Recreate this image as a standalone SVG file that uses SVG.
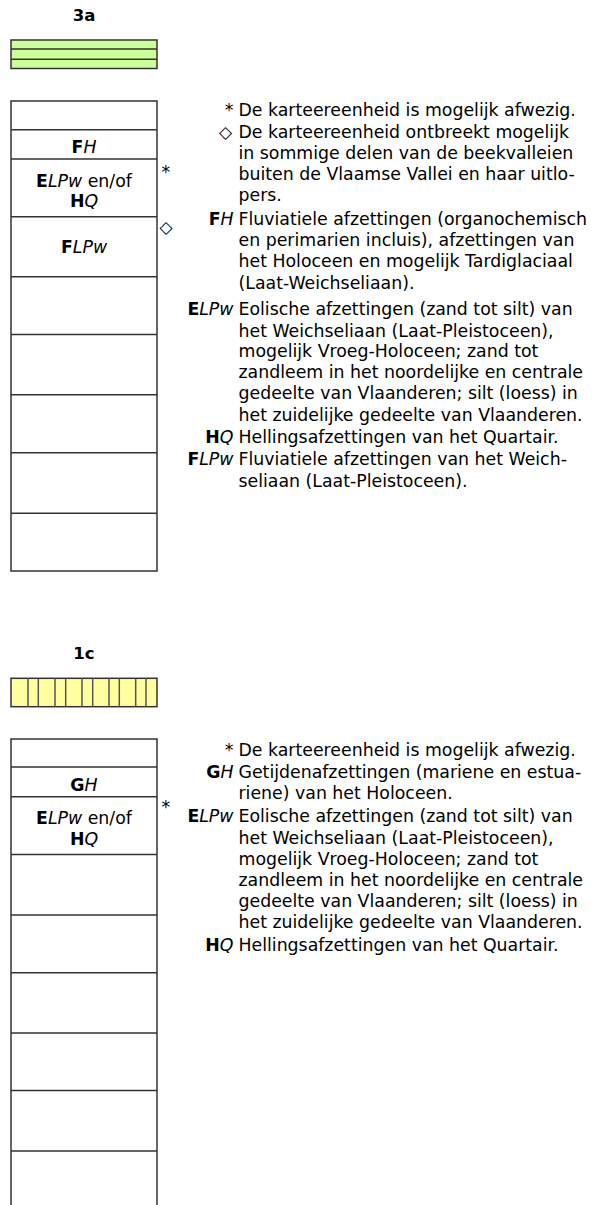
<svg xmlns="http://www.w3.org/2000/svg" width="594" height="1205" viewBox="0 0 594 1205">
  <style>
    text { font-family: "DejaVu Sans", Verdana, sans-serif; font-size: 17.33px; fill: #000; }
    .title { font-weight: bold; font-size: 16.5px; text-anchor: middle; }
    .lbl { text-anchor: middle; }
    .key { text-anchor: end; }
    .b { font-weight: bold; }
    .i { font-style: italic; }
    .dia { font-size: 17px; font-weight: bold; }
    .cell { fill: #fff; stroke: #333; stroke-width: 1.5; }
    .div { stroke: #333; stroke-width: 1.5; fill: none; }
    .green { fill: #ccff99; stroke: #333; stroke-width: 1.5; }
    .yellow { fill: #ffff9f; stroke: #333; stroke-width: 1.5; }
    .hatch { stroke: #555; stroke-width: 1.5; }
  </style>

  <!-- ===== Profile 3a ===== -->
  <g id="title-3a">
    <text class="title" x="84" y="21">3a</text>
  </g>

  <g id="swatch-3a">
    <rect class="green" x="11" y="40" width="146" height="28.5"/>
    <line class="div" x1="11" y1="49" x2="157" y2="49"/>
    <line class="div" x1="11" y1="59.3" x2="157" y2="59.3"/>
  </g>

  <g id="column-3a">
    <rect class="cell" x="11" y="101" width="146" height="470"/>
    <line class="div" x1="11" y1="129.7" x2="157" y2="129.7"/>
    <line class="div" x1="11" y1="159" x2="157" y2="159"/>
    <line class="div" x1="11" y1="216.7" x2="157" y2="216.7"/>
    <line class="div" x1="11" y1="276.7" x2="157" y2="276.7"/>
    <line class="div" x1="11" y1="334.5" x2="157" y2="334.5"/>
    <line class="div" x1="11" y1="394.7" x2="157" y2="394.7"/>
    <line class="div" x1="11" y1="452.7" x2="157" y2="452.7"/>
    <line class="div" x1="11" y1="513.3" x2="157" y2="513.3"/>
  </g>

  <g id="cell-3a-FH">
    <text class="lbl" x="84" y="152.7"><tspan class="b">F</tspan><tspan class="i">H</tspan></text>
  </g>
  <g id="cell-3a-ELPw-HQ">
    <text class="lbl" x="84" y="186.7"><tspan class="b">E</tspan><tspan class="i">LPw</tspan> en/of</text>
    <text class="lbl" x="84" y="207"><tspan class="b">H</tspan><tspan class="i">Q</tspan></text>
    <text x="161.5" y="178.4">*</text>
  </g>
  <g id="cell-3a-FLPw">
    <text class="lbl" x="84" y="253.3"><tspan class="b">F</tspan><tspan class="i">LPw</tspan></text>
    <text class="dia" x="159.5" y="232.5">◇</text>
  </g>

  <g id="legend-3a">
    <text class="key" x="233.5" y="116">*</text>
    <text x="238.5" y="116">De karteereenheid is mogelijk afwezig.</text>
    <text class="key dia" x="232" y="137.5">◇</text>
    <text x="238.5" y="138">De karteereenheid ontbreekt mogelijk</text>
    <text x="238.5" y="159">in sommige delen van de beekvalleien</text>
    <text x="238.5" y="180">buiten de Vlaamse Vallei en haar uitlo-</text>
    <text x="238.5" y="201">pers.</text>

    <text class="key" x="233.5" y="225"><tspan class="b">F</tspan><tspan class="i">H</tspan></text>
    <text x="238.5" y="225">Fluviatiele afzettingen (organochemisch</text>
    <text x="238.5" y="246">en perimarien incluis), afzettingen van</text>
    <text x="238.5" y="267">het Holoceen en mogelijk Tardiglaciaal</text>
    <text x="238.5" y="288.5">(Laat-Weichseliaan).</text>

    <text class="key" x="233.5" y="315"><tspan class="b">E</tspan><tspan class="i">LPw</tspan></text>
    <text x="238.5" y="315">Eolische afzettingen (zand tot silt) van</text>
    <text x="238.5" y="336.5">het Weichseliaan (Laat-Pleistoceen),</text>
    <text x="238.5" y="357">mogelijk Vroeg-Holoceen; zand tot</text>
    <text x="238.5" y="378">zandleem in het noordelijke en centrale</text>
    <text x="238.5" y="399">gedeelte van Vlaanderen; silt (loess) in</text>
    <text x="238.5" y="420.5">het zuidelijke gedeelte van Vlaanderen.</text>

    <text class="key" x="233.5" y="443"><tspan class="b">H</tspan><tspan class="i">Q</tspan></text>
    <text x="238.5" y="443">Hellingsafzettingen van het Quartair.</text>

    <text class="key" x="233.5" y="465"><tspan class="b">F</tspan><tspan class="i">LPw</tspan></text>
    <text x="238.5" y="465">Fluviatiele afzettingen van het Weich-</text>
    <text x="238.5" y="486.5">seliaan (Laat-Pleistoceen).</text>
  </g>

  <!-- ===== Profile 1c ===== -->
  <g id="title-1c">
    <text class="title" x="84" y="659">1c</text>
  </g>

  <g id="swatch-1c">
    <rect class="yellow" x="11" y="678.3" width="146" height="28.4"/>
    <line class="hatch" x1="28" y1="678.3" x2="28" y2="706.7"/>
    <line class="hatch" x1="38.3" y1="678.3" x2="38.3" y2="706.7"/>
    <line class="hatch" x1="55" y1="678.3" x2="55" y2="706.7"/>
    <line class="hatch" x1="65.7" y1="678.3" x2="65.7" y2="706.7"/>
    <line class="hatch" x1="82" y1="678.3" x2="82" y2="706.7"/>
    <line class="hatch" x1="92.7" y1="678.3" x2="92.7" y2="706.7"/>
    <line class="hatch" x1="109" y1="678.3" x2="109" y2="706.7"/>
    <line class="hatch" x1="119.3" y1="678.3" x2="119.3" y2="706.7"/>
    <line class="hatch" x1="135.7" y1="678.3" x2="135.7" y2="706.7"/>
    <line class="hatch" x1="146" y1="678.3" x2="146" y2="706.7"/>
  </g>

  <g id="column-1c">
    <rect class="cell" x="11" y="739" width="146" height="470"/>
    <line class="div" x1="11" y1="767" x2="157" y2="767"/>
    <line class="div" x1="11" y1="796.8" x2="157" y2="796.8"/>
    <line class="div" x1="11" y1="854.5" x2="157" y2="854.5"/>
    <line class="div" x1="11" y1="915" x2="157" y2="915"/>
    <line class="div" x1="11" y1="972.8" x2="157" y2="972.8"/>
    <line class="div" x1="11" y1="1033" x2="157" y2="1033"/>
    <line class="div" x1="11" y1="1090.5" x2="157" y2="1090.5"/>
    <line class="div" x1="11" y1="1151" x2="157" y2="1151"/>
  </g>

  <g id="cell-1c-GH">
    <text class="lbl" x="84" y="790.5"><tspan class="b">G</tspan><tspan class="i">H</tspan></text>
  </g>
  <g id="cell-1c-ELPw-HQ">
    <text class="lbl" x="84" y="824"><tspan class="b">E</tspan><tspan class="i">LPw</tspan> en/of</text>
    <text class="lbl" x="84" y="844.5"><tspan class="b">H</tspan><tspan class="i">Q</tspan></text>
    <text x="161.5" y="812.5">*</text>
  </g>

  <g id="legend-1c">
    <text class="key" x="233.5" y="756">*</text>
    <text x="238.5" y="756">De karteereenheid is mogelijk afwezig.</text>

    <text class="key" x="233.5" y="777.5"><tspan class="b">G</tspan><tspan class="i">H</tspan></text>
    <text x="238.5" y="777.5">Getijdenafzettingen (mariene en estua-</text>
    <text x="238.5" y="798.5">riene) van het Holoceen.</text>

    <text class="key" x="233.5" y="822"><tspan class="b">E</tspan><tspan class="i">LPw</tspan></text>
    <text x="238.5" y="822">Eolische afzettingen (zand tot silt) van</text>
    <text x="238.5" y="843.5">het Weichseliaan (Laat-Pleistoceen),</text>
    <text x="238.5" y="864.5">mogelijk Vroeg-Holoceen; zand tot</text>
    <text x="238.5" y="885.5">zandleem in het noordelijke en centrale</text>
    <text x="238.5" y="906.5">gedeelte van Vlaanderen; silt (loess) in</text>
    <text x="238.5" y="928">het zuidelijke gedeelte van Vlaanderen.</text>

    <text class="key" x="233.5" y="951"><tspan class="b">H</tspan><tspan class="i">Q</tspan></text>
    <text x="238.5" y="951">Hellingsafzettingen van het Quartair.</text>
  </g>
</svg>
